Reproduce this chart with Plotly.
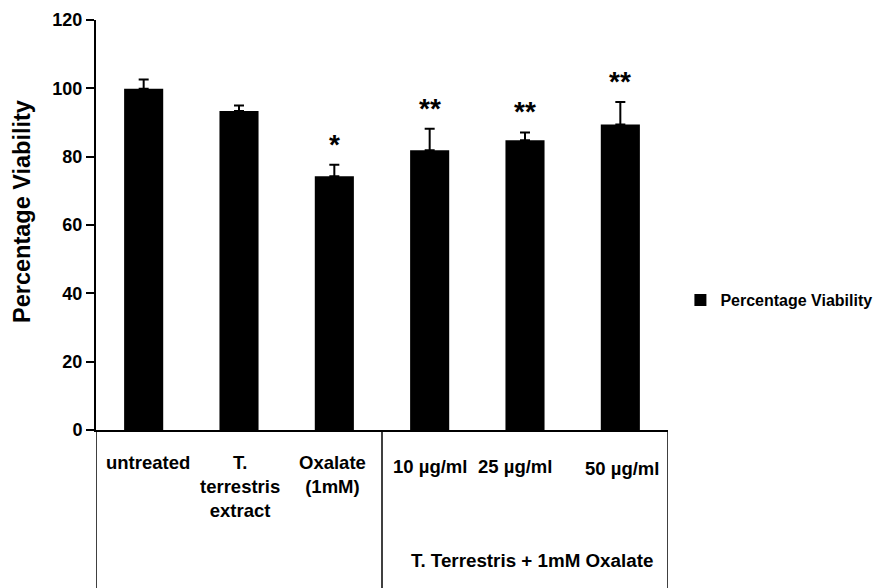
import plotly.graph_objects as go

categories = ["untreated", "T. terrestris extract", "Oxalate (1mM)",
              "10 µg/ml", "25 µg/ml", "50 µg/ml"]
viability = [99.9, 93.4, 74.3, 81.9, 84.8, 89.4]
errors = [2.7, 1.6, 3.3, 6.3, 2.3, 6.6]
significance = ["", "", "*", "**", "**", "**"]
category_labels = ["untreated", "T.<br>terrestris<br>extract", "Oxalate<br>(1mM)",
                   "10 µg/ml", "25 µg/ml", "50 µg/ml"]
group_label = "T. Terrestris + 1mM Oxalate"
y_ticks = [0, 20, 40, 60, 80, 100, 120]

FONT = "Liberation Sans, Arial, Helvetica, sans-serif"

fig = go.Figure()
fig.add_trace(go.Bar(
    x=categories, y=viability, name="Percentage Viability",
    marker=dict(color="black", line=dict(width=0)),
    width=0.41,
    error_y=dict(type="data", array=errors, arrayminus=[0] * len(errors),
                 symmetric=False, color="black", thickness=2, width=5),
    showlegend=True,
))

# significance marks
for c, v, e, s in zip(categories, viability, errors, significance):
    if s:
        fig.add_annotation(x=c, y=v + e, xref="x", yref="y", text=s,
                           showarrow=False, yanchor="bottom", yshift=3,
                           font=dict(family=FONT, size=28, color="black", weight="bold"))

# category labels in the table below
label_shift = [4, 1, -2, 0, -10, 2]
label_top = [450, 450, 450, 454, 454, 456]
H = 410.0
for c, lab, dx, top in zip(categories, category_labels, label_shift, label_top):
    fig.add_annotation(x=c, y=(430 - top) / H, xref="x", yref="paper", text=lab,
                       showarrow=False, yanchor="top", xshift=dx,
                       font=dict(family=FONT, size=18.5, color="black", weight="bold"))

fig.add_annotation(x=4.07, y=(430 - 560) / H, xref="x", yref="paper", text=group_label,
                   showarrow=False, yanchor="middle",
                   font=dict(family=FONT, size=18.8, color="black", weight="bold"))

# y-axis title
fig.add_annotation(x=-74 / 572.0, y=(430 - 212) / H, xref="paper", yref="paper",
                   xanchor="center", yanchor="middle",
                   text="Percentage Viability", textangle=-90, showarrow=False,
                   font=dict(family=FONT, size=23.5, color="black", weight="bold"))

# table lines
for xv in [-0.5, 2.5, 5.5]:
    fig.add_shape(type="line", xref="x", yref="paper", x0=xv, x1=xv, y0=0, y1=-0.4,
                  line=dict(color="black", width=1.5))

fig.update_layout(
    width=874, height=588,
    margin=dict(l=96, r=206, t=20, b=158, autoexpand=False),
    paper_bgcolor="white", plot_bgcolor="white",
    font=dict(family=FONT, color="black"),
    legend=dict(x=1.0217, y=(430 - 300) / H, xanchor="left", yanchor="middle",
                font=dict(family=FONT, size=16, color="black", weight="bold"),
                bgcolor="rgba(0,0,0,0)"),
    xaxis=dict(range=[-0.5, 5.5], showline=True, linecolor="black", linewidth=2,
               showticklabels=False, ticks="", showgrid=False, zeroline=False),
    yaxis=dict(range=[0, 120], tickvals=y_ticks, showline=True, linecolor="black",
               linewidth=2, ticks="outside", ticklen=8, tickwidth=1.5, tickcolor="black",
               showgrid=False, zeroline=False,
               tickfont=dict(family=FONT, size=18, color="black", weight="bold")),
)

fig.write_html("out.html", config={"displayModeBar": False},
               post_script="document.body.style.margin='0';document.body.style.padding='0';")
